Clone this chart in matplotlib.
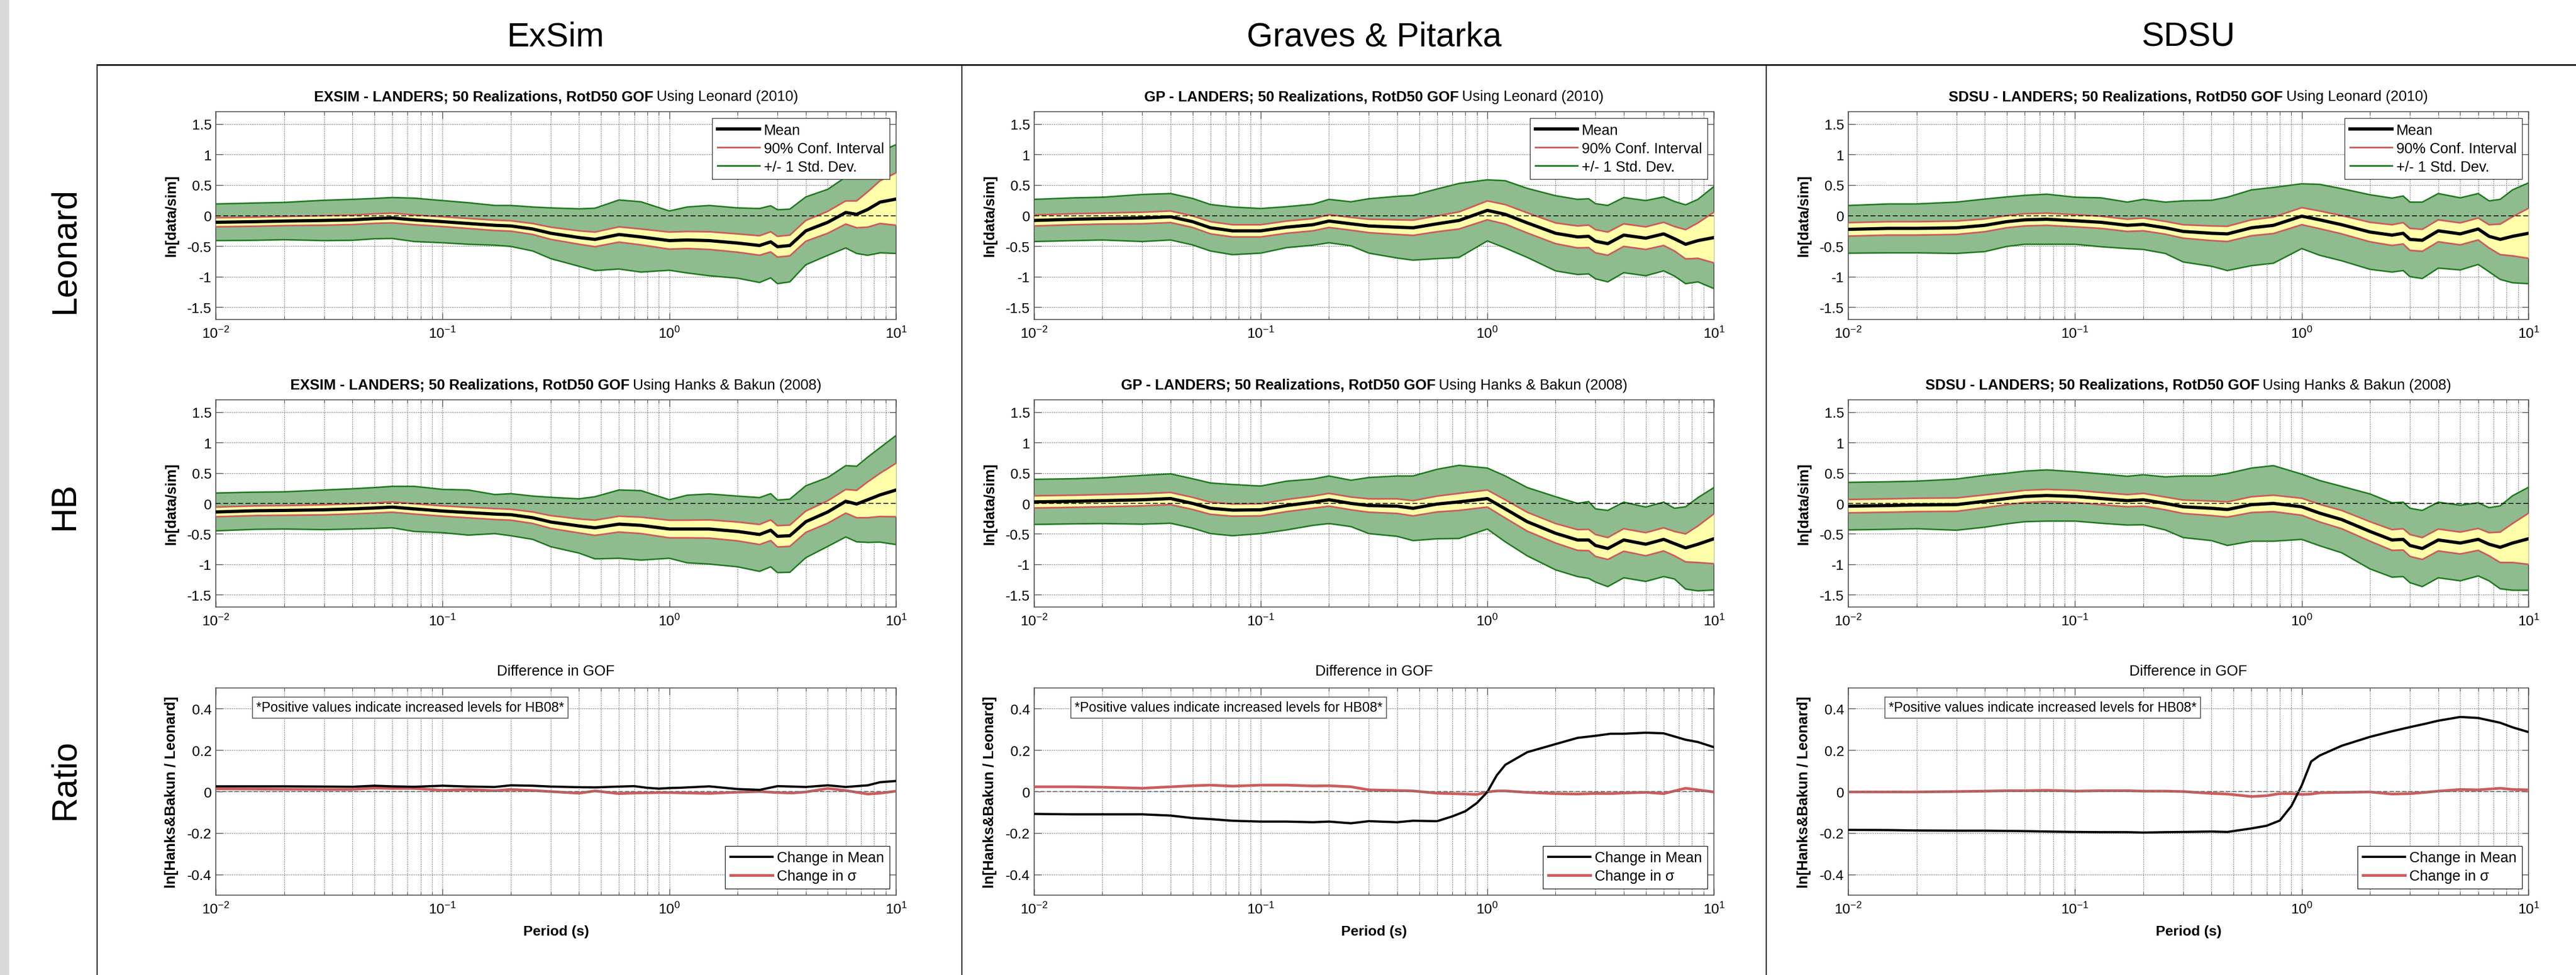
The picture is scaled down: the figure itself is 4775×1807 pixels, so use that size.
# =====================================
# LANDERS GOF COMPARISON: LEONARD vs HANKS & BAKUN
# =====================================

import numpy as np
import matplotlib
matplotlib.use("Agg")
import matplotlib.pyplot as plt
from matplotlib.lines import Line2D
from matplotlib.patches import Rectangle
from matplotlib.ticker import LogLocator, NullFormatter, FixedLocator

# -----------------------------
# DATA
# -----------------------------
periods = [0.01, 0.015, 0.02, 0.03, 0.04, 0.05, 0.06, 0.075, 0.1, 0.13, 0.17,
           0.2, 0.25, 0.3, 0.4, 0.47, 0.6, 0.75, 1.0, 1.2, 1.5, 2.0, 2.5, 2.8,
           3.0, 3.4, 4.0, 5.0, 6.0, 6.7, 7.5, 8.5, 10.0]

# ExSim, Leonard (2010)
exsim_leo_mean = [-0.11, -0.10, -0.09, -0.08, -0.07, -0.05, -0.04, -0.07, -0.10, -0.13, -0.16,
                  -0.17, -0.22, -0.29, -0.36, -0.39, -0.31, -0.35, -0.41, -0.40, -0.41, -0.45,
                  -0.49, -0.43, -0.51, -0.49, -0.25, -0.11, 0.05, 0.02, 0.10, 0.22, 0.27]
exsim_leo_std = [0.30, 0.305, 0.305, 0.33, 0.335, 0.33, 0.335, 0.355, 0.345, 0.34, 0.325,
                 0.335, 0.36, 0.415, 0.47, 0.51, 0.565, 0.575, 0.485, 0.54, 0.575, 0.575,
                 0.605, 0.59, 0.605, 0.595, 0.555, 0.54, 0.58, 0.64, 0.75, 0.83, 0.89]
exsim_leo_ci = [0.075, 0.075, 0.075, 0.078, 0.078, 0.078, 0.08, 0.08, 0.08, 0.082, 0.085,
                0.085, 0.09, 0.10, 0.11, 0.12, 0.125, 0.13, 0.14, 0.14, 0.145, 0.15,
                0.16, 0.165, 0.17, 0.17, 0.17, 0.18, 0.19, 0.22, 0.29, 0.35, 0.43]

# Graves & Pitarka, Leonard (2010)
gp_leo_mean = [-0.08, -0.06, -0.05, -0.04, -0.02, -0.10, -0.20, -0.25, -0.25, -0.19, -0.15,
               -0.09, -0.135, -0.17, -0.19, -0.20, -0.135, -0.08, 0.085, 0.02, -0.12, -0.29,
               -0.35, -0.34, -0.42, -0.46, -0.32, -0.37, -0.30, -0.38, -0.47, -0.41, -0.36]
gp_leo_std = [0.345, 0.35, 0.35, 0.385, 0.38, 0.38, 0.38, 0.39, 0.365, 0.335, 0.335,
              0.355, 0.36, 0.445, 0.505, 0.53, 0.57, 0.605, 0.50, 0.55, 0.565, 0.615,
              0.615, 0.615, 0.615, 0.625, 0.615, 0.615, 0.605, 0.61, 0.645, 0.675, 0.835]
gp_leo_ci = [0.09, 0.09, 0.09, 0.095, 0.095, 0.095, 0.10, 0.10, 0.10, 0.10, 0.10,
             0.105, 0.105, 0.11, 0.12, 0.125, 0.13, 0.14, 0.155, 0.16, 0.165, 0.17,
             0.18, 0.185, 0.19, 0.19, 0.185, 0.185, 0.19, 0.20, 0.24, 0.29, 0.415]

# SDSU, Leonard (2010)
sdsu_leo_mean = [-0.226, -0.21, -0.21, -0.20, -0.16, -0.10, -0.07, -0.06, -0.085, -0.11, -0.16,
                 -0.145, -0.20, -0.26, -0.29, -0.30, -0.20, -0.16, -0.01, -0.07, -0.15, -0.27,
                 -0.32, -0.29, -0.39, -0.405, -0.25, -0.30, -0.22, -0.34, -0.39, -0.34, -0.29]
sdsu_leo_std = [0.39, 0.40, 0.40, 0.42, 0.43, 0.405, 0.40, 0.41, 0.385, 0.40, 0.38,
                0.41, 0.42, 0.50, 0.54, 0.60, 0.62, 0.62, 0.53, 0.58, 0.59, 0.61,
                0.605, 0.61, 0.61, 0.625, 0.61, 0.59, 0.58, 0.58, 0.655, 0.76, 0.825]
sdsu_leo_ci = [0.11, 0.11, 0.11, 0.11, 0.105, 0.10, 0.10, 0.10, 0.10, 0.10, 0.10,
               0.105, 0.105, 0.11, 0.12, 0.125, 0.13, 0.135, 0.14, 0.145, 0.15, 0.16,
               0.17, 0.175, 0.18, 0.18, 0.18, 0.18, 0.18, 0.19, 0.25, 0.32, 0.41]

# ExSim, Hanks & Bakun (2008)
exsim_hb_mean = [-0.14, -0.12, -0.115, -0.105, -0.09, -0.075, -0.06, -0.09, -0.125, -0.15, -0.175,
                 -0.185, -0.235, -0.305, -0.37, -0.40, -0.34, -0.36, -0.42, -0.42, -0.42, -0.46,
                 -0.51, -0.44, -0.54, -0.53, -0.30, -0.14, 0.035, -0.01, 0.06, 0.14, 0.22]
exsim_hb_std = [0.31, 0.305, 0.305, 0.325, 0.33, 0.335, 0.34, 0.37, 0.355, 0.37, 0.32,
                0.345, 0.355, 0.405, 0.445, 0.51, 0.56, 0.57, 0.48, 0.555, 0.575, 0.58,
                0.605, 0.60, 0.595, 0.60, 0.59, 0.565, 0.585, 0.62, 0.70, 0.775, 0.895]
exsim_hb_ci = [0.08, 0.08, 0.08, 0.083, 0.083, 0.083, 0.085, 0.085, 0.085, 0.087, 0.09,
               0.09, 0.095, 0.105, 0.115, 0.125, 0.13, 0.135, 0.145, 0.145, 0.15, 0.155,
               0.165, 0.17, 0.175, 0.175, 0.175, 0.185, 0.195, 0.225, 0.295, 0.355, 0.44]

# Graves & Pitarka, Hanks & Bakun (2008)
gp_hb_mean = [0.025, 0.035, 0.045, 0.06, 0.08, 0.0, -0.08, -0.11, -0.105, -0.035, 0.02,
              0.06, 0.0, -0.035, -0.045, -0.08, -0.01, 0.025, 0.08, -0.09, -0.30, -0.49,
              -0.60, -0.60, -0.69, -0.74, -0.60, -0.67, -0.59, -0.66, -0.73, -0.67, -0.58]
gp_hb_std = [0.37, 0.37, 0.375, 0.40, 0.405, 0.405, 0.415, 0.42, 0.39, 0.40, 0.38,
             0.39, 0.38, 0.46, 0.495, 0.53, 0.57, 0.60, 0.50, 0.54, 0.56, 0.60,
             0.60, 0.63, 0.60, 0.625, 0.62, 0.61, 0.61, 0.58, 0.675, 0.765, 0.84]
gp_hb_ci = [0.10, 0.10, 0.10, 0.10, 0.10, 0.10, 0.10, 0.10, 0.10, 0.10, 0.10,
            0.105, 0.105, 0.11, 0.12, 0.125, 0.13, 0.14, 0.14, 0.15, 0.155, 0.16,
            0.17, 0.175, 0.18, 0.18, 0.185, 0.19, 0.19, 0.20, 0.23, 0.30, 0.41]

# SDSU, Hanks & Bakun (2008)
sdsu_hb_mean = [-0.045, -0.035, -0.025, -0.02, 0.035, 0.08, 0.115, 0.13, 0.115, 0.08, 0.045,
                0.06, 0.0, -0.055, -0.08, -0.10, -0.02, 0.0, -0.055, -0.16, -0.265, -0.46,
                -0.60, -0.59, -0.69, -0.74, -0.60, -0.65, -0.59, -0.67, -0.72, -0.65, -0.58]
sdsu_hb_std = [0.39, 0.39, 0.39, 0.42, 0.425, 0.415, 0.415, 0.42, 0.405, 0.405, 0.40,
               0.41, 0.435, 0.505, 0.53, 0.59, 0.60, 0.62, 0.535, 0.535, 0.545, 0.615,
               0.61, 0.61, 0.61, 0.625, 0.62, 0.62, 0.60, 0.60, 0.68, 0.775, 0.845]
sdsu_hb_ci = [0.11, 0.11, 0.11, 0.11, 0.105, 0.10, 0.10, 0.10, 0.10, 0.10, 0.10,
              0.105, 0.105, 0.11, 0.12, 0.125, 0.13, 0.135, 0.14, 0.145, 0.15, 0.16,
              0.17, 0.175, 0.18, 0.18, 0.18, 0.18, 0.18, 0.19, 0.25, 0.32, 0.42]

# Difference in GOF (HB08 vs Leonard)
ratio_periods = [0.01, 0.015, 0.02, 0.03, 0.04, 0.05, 0.06, 0.075, 0.1, 0.13, 0.17,
                 0.2, 0.25, 0.3, 0.4, 0.47, 0.6, 0.7, 0.8, 0.9, 1.0, 1.1, 1.2, 1.5,
                 2.0, 2.5, 3.0, 3.5, 4.0, 5.0, 6.0, 7.5, 8.5, 10.0]

exsim_dmean = [0.025, 0.025, 0.025, 0.024, 0.023, 0.028, 0.025, 0.023, 0.028, 0.024, 0.022,
               0.03, 0.028, 0.024, 0.021, 0.02, 0.024, 0.026, 0.018, 0.014, 0.017, 0.018,
               0.02, 0.025, 0.012, 0.008, 0.026, 0.024, 0.022, 0.03, 0.022, 0.03, 0.045, 0.051]
exsim_dsig = [0.013, 0.012, 0.011, 0.010, 0.010, 0.017, 0.015, 0.015, 0.006, 0.01, 0.004,
              0.01, 0.005, 0.0, -0.008, 0.003, -0.01, -0.007, -0.006, -0.005, -0.005, -0.006,
              -0.007, -0.009, -0.003, 0.0, -0.005, -0.007, -0.002, 0.015, 0.005, -0.012, -0.008, 0.002]

gp_dmean = [-0.108, -0.11, -0.11, -0.11, -0.116, -0.128, -0.133, -0.141, -0.145, -0.145, -0.148,
            -0.145, -0.153, -0.143, -0.148, -0.141, -0.143, -0.12, -0.095, -0.055, -0.002, 0.078,
            0.129, 0.19, 0.229, 0.259, 0.269, 0.279, 0.279, 0.284, 0.281, 0.25, 0.239, 0.214]
gp_dsig = [0.023, 0.023, 0.021, 0.016, 0.023, 0.028, 0.031, 0.026, 0.031, 0.031, 0.027,
           0.028, 0.023, 0.008, 0.005, 0.003, -0.008, -0.01, -0.012, -0.014, -0.002, 0.003,
           0.003, -0.004, -0.01, -0.012, -0.009, -0.01, -0.007, -0.004, -0.01, 0.016, 0.008, -0.002]

sdsu_dmean = [-0.185, -0.186, -0.188, -0.189, -0.189, -0.19, -0.191, -0.193, -0.195, -0.196, -0.196,
              -0.198, -0.196, -0.195, -0.193, -0.195, -0.178, -0.165, -0.14, -0.07, 0.03, 0.145,
              0.174, 0.221, 0.264, 0.291, 0.311, 0.327, 0.342, 0.36, 0.355, 0.332, 0.31, 0.287]
sdsu_dsig = [-0.002, -0.002, -0.002, 0.0, 0.002, 0.004, 0.004, 0.006, 0.002, 0.004, 0.004,
             0.002, 0.002, 0.0, -0.009, -0.012, -0.024, -0.02, -0.01, -0.01, -0.014, -0.012,
             -0.006, -0.004, -0.002, -0.012, -0.01, -0.004, 0.002, 0.01, 0.008, 0.016, 0.01, 0.008]

column_titles = ["ExSim", "Graves & Pitarka", "SDSU"]
model_codes = ["EXSIM", "GP", "SDSU"]
row_titles = ["Leonard", "HB", "Ratio"]
scaling_names = ["Using Leonard (2010)", "Using Hanks & Bakun (2008)"]
gof_ticks = [-1.5, -1, -0.5, 0, 0.5, 1, 1.5]
gof_ticklabels = ["-1.5", "-1", "-0.5", "0", "0.5", "1", "1.5"]
ratio_ticks = [-0.4, -0.2, 0, 0.2, 0.4]
ratio_ticklabels = ["-0.4", "-0.2", "0", "0.2", "0.4"]

gof_sets = [
    [(exsim_leo_mean, exsim_leo_std, exsim_leo_ci),
     (gp_leo_mean, gp_leo_std, gp_leo_ci),
     (sdsu_leo_mean, sdsu_leo_std, sdsu_leo_ci)],
    [(exsim_hb_mean, exsim_hb_std, exsim_hb_ci),
     (gp_hb_mean, gp_hb_std, gp_hb_ci),
     (sdsu_hb_mean, sdsu_hb_std, sdsu_hb_ci)],
]
ratio_sets = [(exsim_dmean, exsim_dsig), (gp_dmean, gp_dsig), (sdsu_dmean, sdsu_dsig)]

# -----------------------------
# CONFIG
# -----------------------------
W, H, DPI = 4775, 1808, 100
COL_X = [(400, 1661), (1917, 3177), (3426, 4687)]
ROW_Y = [(208, 593), (742, 1126), (1276, 1660)]
ROW_LABEL_Y = [464, 938, 1444]
TITLE_Y = [178, 713, 1245]

GREEN_FILL = "#8fbc8f"
GREEN_LINE = "#1f7a1f"
YELLOW = "#ffffaa"
RED = "#cd5c5c"
FS = 19

plt.rcParams['font.family'] = ['Liberation Sans', 'DejaVu Sans']
plt.rcParams['axes.unicode_minus'] = False
plt.rcParams['mathtext.fontset'] = 'custom'
plt.rcParams['mathtext.rm'] = 'Liberation Sans'
plt.rcParams['mathtext.it'] = 'Liberation Sans:italic'
plt.rcParams['mathtext.bf'] = 'Liberation Sans:bold'
plt.rcParams['mathtext.default'] = 'regular'

fig = plt.figure(figsize=(W / DPI, H / DPI), dpi=DPI)
renderer = fig.canvas.get_renderer()


def fx(px):
    return px / W


def fy(py):
    return 1 - py / H


def style_axes(ax, ylim, ticks, labels):
    ax.set_xscale('log')
    ax.set_xlim(0.01, 10)
    ax.set_ylim(*ylim)
    ax.xaxis.set_major_locator(LogLocator(base=10, numticks=10))
    ax.xaxis.set_minor_locator(LogLocator(base=10, subs=np.arange(2, 10), numticks=20))
    ax.xaxis.set_minor_formatter(NullFormatter())
    ax.yaxis.set_major_locator(FixedLocator(ticks))
    ax.set_yticklabels(labels)
    ax.tick_params(which='both', direction='in', top=True, right=True,
                   labelsize=FS, color='0.3')
    ax.tick_params(which='major', length=9, width=1.0)
    ax.tick_params(which='minor', length=4.5, width=0.8)
    ax.tick_params(axis='x', pad=9)
    ax.tick_params(axis='y', pad=5.5)
    ax.grid(True, which='major', ls=':', color='0.3', lw=0.9)
    ax.grid(True, which='minor', axis='x', ls=':', color='0.3', lw=0.9)
    ax.set_axisbelow(True)
    for sp in ax.spines.values():
        sp.set_color('0.3')
        sp.set_linewidth(1.2)


def split_title(ax, bold, normal, y_px):
    # bold model/run part followed by the plain scaling-law part, centred together
    bb = ax.get_window_extent(renderer)
    xc = (bb.x0 + bb.x1) / 2
    tb = fig.text(0, 0, bold, fontsize=19.5, fontweight='bold', ha='left', va='baseline')
    tn = fig.text(0, 0, normal, fontsize=19.5, ha='left', va='baseline')
    wb = tb.get_window_extent(renderer).width
    wn = tn.get_window_extent(renderer).width
    gap = 6
    x0 = xc - (wb + gap + wn) / 2
    tb.set_position((fx(x0), fy(y_px + 9)))
    tn.set_position((fx(x0 + wb + gap), fy(y_px + 9)))


# -----------------------------
# FRAME
# -----------------------------
fig.add_artist(Rectangle((0, 0), fx(17), 1, transform=fig.transFigure,
                         color='#d9d9d9', lw=0, zorder=0))
fig.add_artist(Line2D([fx(180), 1], [fy(121), fy(121)], color='k', lw=2.0,
                      transform=fig.transFigure))
for xl in [180, 1783, 3274]:
    fig.add_artist(Line2D([fx(xl), fx(xl)], [0, fy(121)], color='k', lw=1.4,
                          transform=fig.transFigure))

for c, name in enumerate(column_titles):
    xc = (COL_X[c][0] + COL_X[c][1]) / 2
    fig.text(fx(xc), fy(86), name, fontsize=45, ha='center', va='baseline')

for r, name in enumerate(row_titles):
    fig.text(fx(120), fy(ROW_LABEL_Y[r]), name, fontsize=46, rotation=90,
             ha='center', va='center')

# -----------------------------
# GOF PANELS
# -----------------------------
T = np.array(periods)
for r in range(2):
    for c in range(3):
        x0, x1 = COL_X[c]
        y0, y1 = ROW_Y[r]
        ax = fig.add_axes([fx(x0), fy(y1), (x1 - x0) / W, (y1 - y0) / H])
        mean, std, ci = [np.array(v) for v in gof_sets[r][c]]

        ax.fill_between(T, mean - std, mean + std, color=GREEN_FILL, lw=0, zorder=2)
        ax.plot(T, mean + std, color=GREEN_LINE, lw=2.0, zorder=3)
        ax.plot(T, mean - std, color=GREEN_LINE, lw=2.0, zorder=3)
        ax.fill_between(T, mean - ci, mean + ci, color=YELLOW, lw=0, zorder=4)
        ax.plot(T, mean + ci, color=RED, lw=2.2, zorder=5)
        ax.plot(T, mean - ci, color=RED, lw=2.2, zorder=5)
        ax.axhline(0, color='k', ls=(0, (6, 3)), lw=1.1, zorder=6)
        ax.plot(T, mean, color='k', lw=4.3, zorder=7)

        style_axes(ax, (-1.7, 1.7), gof_ticks, gof_ticklabels)

        if r == 0:
            handles = [Line2D([], [], color='k', lw=4.3),
                       Line2D([], [], color=RED, lw=2.2),
                       Line2D([], [], color=GREEN_LINE, lw=2.2)]
            leg = ax.legend(handles, ["Mean", "90% Conf. Interval", "+/- 1 Std. Dev."],
                            loc='upper right', fontsize=19.5, fancybox=False,
                            framealpha=1, edgecolor='0.2', handlelength=2.9,
                            handletextpad=0.3, labelspacing=0.3, borderpad=0.35,
                            borderaxespad=0.45)
            leg.get_frame().set_linewidth(1.0)
            leg.set_zorder(10)

        fig.text(fx(x0 - 82), fy((y0 + y1) / 2), "ln[data/sim]", fontsize=19.5,
                 fontweight='bold', rotation=90, ha='center', va='center')
        split_title(ax, model_codes[c] + " - LANDERS; 50 Realizations, RotD50 GOF",
                    scaling_names[r], TITLE_Y[r])

# -----------------------------
# RATIO PANELS
# -----------------------------
TR = np.array(ratio_periods)
for c in range(3):
    x0, x1 = COL_X[c]
    y0, y1 = ROW_Y[2]
    ax = fig.add_axes([fx(x0), fy(y1), (x1 - x0) / W, (y1 - y0) / H])
    dmean, dsig = ratio_sets[c]

    ax.plot(TR, dmean, color='k', lw=3.0, zorder=4, label="Change in Mean")
    ax.plot(TR, dsig, color=RED, lw=3.6, zorder=3, label="Change in σ")
    ax.axhline(0, color='0.45', ls=(0, (4, 2)), lw=1.4, zorder=5)

    style_axes(ax, (-0.5, 0.5), ratio_ticks, ratio_ticklabels)

    leg = ax.legend(loc='lower right', fontsize=19.5, fancybox=False, framealpha=1,
                    edgecolor='0.1', handlelength=2.9, handletextpad=0.3,
                    labelspacing=0.3, borderpad=0.35, borderaxespad=0.45)
    leg.get_frame().set_linewidth(1.0)

    ax.text(75 / (x1 - x0), 0.905, "*Positive values indicate increased levels for HB08*",
            transform=ax.transAxes, fontsize=18, ha='left', va='center', zorder=8,
            bbox=dict(boxstyle='square,pad=0.3', fc='white', ec='0.35', lw=1.2))

    fig.text(fx(x0 - 82), fy((y0 + y1) / 2), "ln[Hanks&Bakun / Leonard]", fontsize=19.5,
             fontweight='bold', rotation=90, ha='center', va='center')
    fig.text(fx((x0 + x1) / 2), fy(TITLE_Y[2]), "Difference in GOF", fontsize=19.5,
             ha='center', va='center')
    fig.text(fx((x0 + x1) / 2), fy(1727), "Period (s)", fontsize=FS,
             fontweight='bold', ha='center', va='center')

fig.savefig("out.png", dpi=DPI)
print("saved out.png")
